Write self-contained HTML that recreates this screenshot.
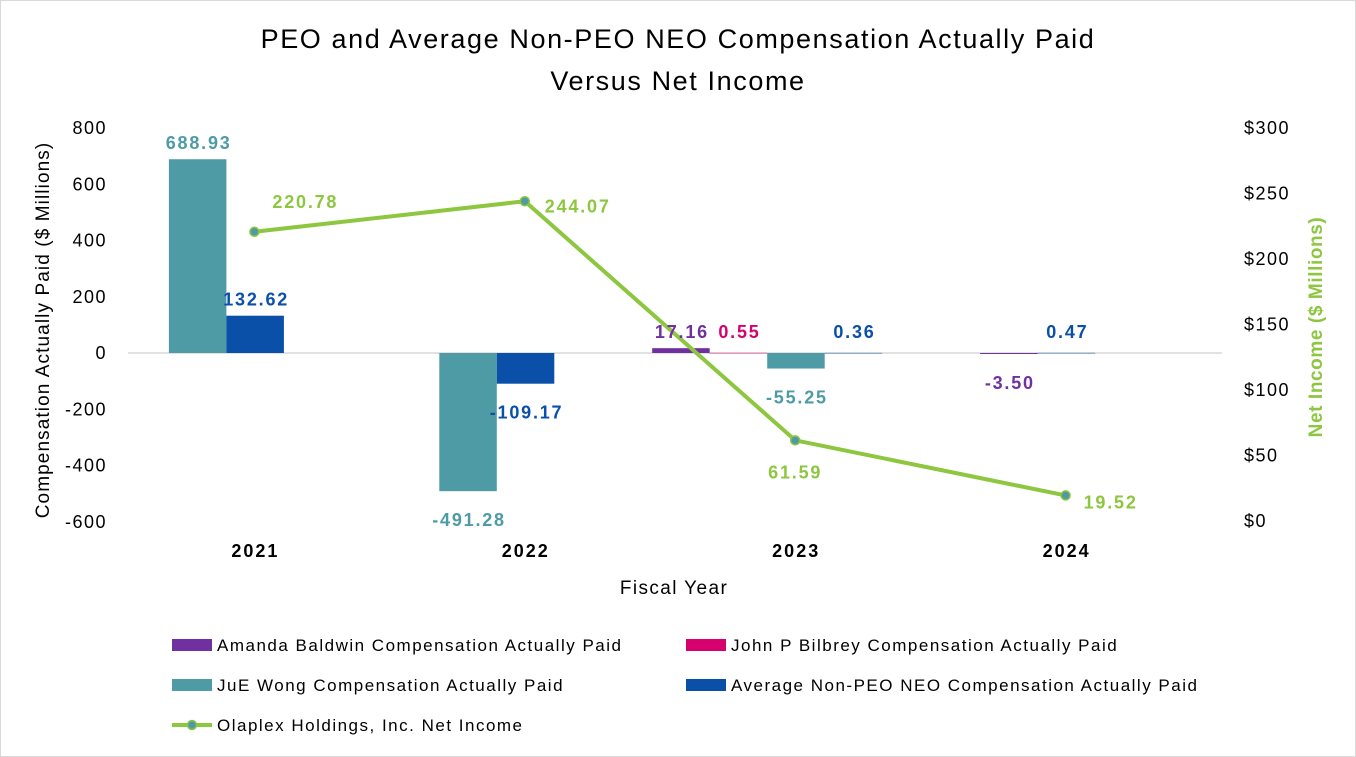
<!DOCTYPE html>
<html><head><meta charset="utf-8"><style>
body{margin:0;background:#fff;}
svg{display:block;font-family:"Liberation Sans",sans-serif;}
</style></head><body>
<svg id="chart" width="1356" height="757" viewBox="0 0 1356 757">
<rect x="0.5" y="0.5" width="1355" height="756" fill="#fff" stroke="#d9d9d9"/>
<text x="678" y="48" text-anchor="middle" font-size="27" letter-spacing="1.6" fill="#000">PEO and Average Non-PEO NEO Compensation Actually Paid</text>
<text x="678" y="90" text-anchor="middle" font-size="27" letter-spacing="1.6" fill="#000">Versus Net Income</text>
<text transform="translate(49,330) rotate(-90)" text-anchor="middle" font-size="19" letter-spacing="1.1" fill="#000">Compensation Actually Paid ($ Millions)</text>
<text transform="translate(1322,327) rotate(-90)" text-anchor="middle" font-size="19" letter-spacing="0.6" font-weight="bold" fill="#8DC63F">Net Income ($ Millions)</text>
<text x="674" y="594" text-anchor="middle" font-size="19" letter-spacing="1.4" fill="#000">Fiscal Year</text>
<g id="axes"></g><g id="bars"></g><g id="line"></g><g id="labels"></g>
<g id="legend" font-size="17" letter-spacing="1.5" fill="#000">
<rect x="172" y="639" width="40" height="12" fill="#7030A0"/>
<text x="217" y="651">Amanda Baldwin  Compensation Actually Paid</text>
<rect x="686" y="639" width="40" height="12" fill="#D6006F"/>
<text x="731" y="651">John P Bilbrey Compensation Actually Paid</text>
<rect x="172" y="679" width="40" height="12" fill="#4E9BA5"/>
<text x="217" y="691">JuE Wong Compensation Actually Paid</text>
<rect x="686" y="679" width="40" height="12" fill="#0A4FA8"/>
<text x="731" y="691">Average Non-PEO NEO Compensation Actually Paid</text>
<line x1="172" y1="725" x2="212" y2="725" stroke="#8DC63F" stroke-width="4"/>
<circle cx="192" cy="725" r="4.5" fill="#4E9BA5" stroke="#8DC63F" stroke-width="1.5"/>
<text x="217" y="731">Olaplex Holdings, Inc. Net Income</text>
</g>
</svg>
<script>
const categories=["2021","2022","2023","2024"];
const amanda=[null,null,17.16,-3.50];
const john=[null,null,0.55,null];
const jue=[688.93,-491.28,-55.25,null];
const avgNeo=[132.62,-109.17,0.36,0.47];
const netIncome=[220.78,244.07,61.59,19.52];
const leftTicks=[800,600,400,200,0,-200,-400,-600];
const rightTicks=[0,50,100,150,200,250,300];
const seriesColors=["#7030A0","#D6006F","#4E9BA5","#0A4FA8"];
const seriesNames=["amanda","john","jue","average"];

const NS="http://www.w3.org/2000/svg";
function el(tag,attrs,parent,text){const e=document.createElementNS(NS,tag);for(const k in attrs)e.setAttribute(k,attrs[k]);if(text!==undefined)e.textContent=text;parent.appendChild(e);return e;}
const yL=v=>353-v*0.28125;
const yR=v=>521-v*(393/300);
const xC=i=>660+270.4*(i-(categories.length-1)/2);
const BW=57.5;
const axes=document.getElementById('axes'),bars=document.getElementById('bars'),line=document.getElementById('line'),labels=document.getElementById('labels');

leftTicks.forEach(t=>{const e=el('text',{x:107,y:yL(t)+6,'text-anchor':'end','font-size':18,'letter-spacing':1.5,fill:'#000'},axes,String(t));

});
rightTicks.forEach(t=>{const e=el('text',{x:1244,y:yR(t)+6,'font-size':18,'letter-spacing':1.5,fill:'#000'},axes,'$'+t);

});
const zl=el('line',{x1:128,x2:1222,y1:yL(0),y2:yL(0),stroke:'#d9d9d9','stroke-width':1.5},axes);


categories.forEach((c,i)=>{const e=el('text',{x:xC(i)+1,y:557,'text-anchor':'middle','font-size':18,'letter-spacing':2,'font-weight':'bold',fill:'#000'},axes,c);

});

const series=[amanda,john,jue,avgNeo];
categories.forEach((c,i)=>{
  const present=series.map((s,k)=>k).filter(k=>series[k][i]!==null);
  const gc=xC(i)-28;
  const start=gc-present.length*BW/2;
  present.forEach((k,j)=>{
    const v=series[k][i];const x=start+j*BW;
    const y0=yL(0),y1=yL(v);
    const r=el('rect',{x:x,y:Math.min(y0,y1),width:BW,height:Math.max(Math.abs(y1-y0),0.5),fill:seriesColors[k]},bars);
    
    
    const ly=v>=0?Math.min(y1,y0-5)-16:y1+29;
    const t=el('text',{x:x+BW/2+1,y:ly+6,'text-anchor':'middle','font-size':18,'letter-spacing':1.8,'font-weight':'bold',fill:seriesColors[k]},labels,v.toFixed(2));
    
    
  });
});

const pts=netIncome.map((v,i)=>[xC(i),yR(v)]);
const pl=el('polyline',{points:pts.map(p=>p.join(',')).join(' '),fill:'none',stroke:'#8DC63F','stroke-width':4},line);


const off=[[18,-30,'start'],[20,5,'start'],[0,32,'middle'],[18,7,'start']];
pts.forEach((p,i)=>{
  const c=el('circle',{cx:p[0],cy:p[1],r:4.5,fill:'#4E9BA5',stroke:'#8DC63F','stroke-width':1.5},line);
  
  
  const t=el('text',{x:p[0]+off[i][0],y:p[1]+off[i][1]+6,'text-anchor':off[i][2],'font-size':18,'letter-spacing':1.8,'font-weight':'bold',fill:'#8DC63F'},labels,netIncome[i].toFixed(2));
  
  
});
</script>
</body></html>
